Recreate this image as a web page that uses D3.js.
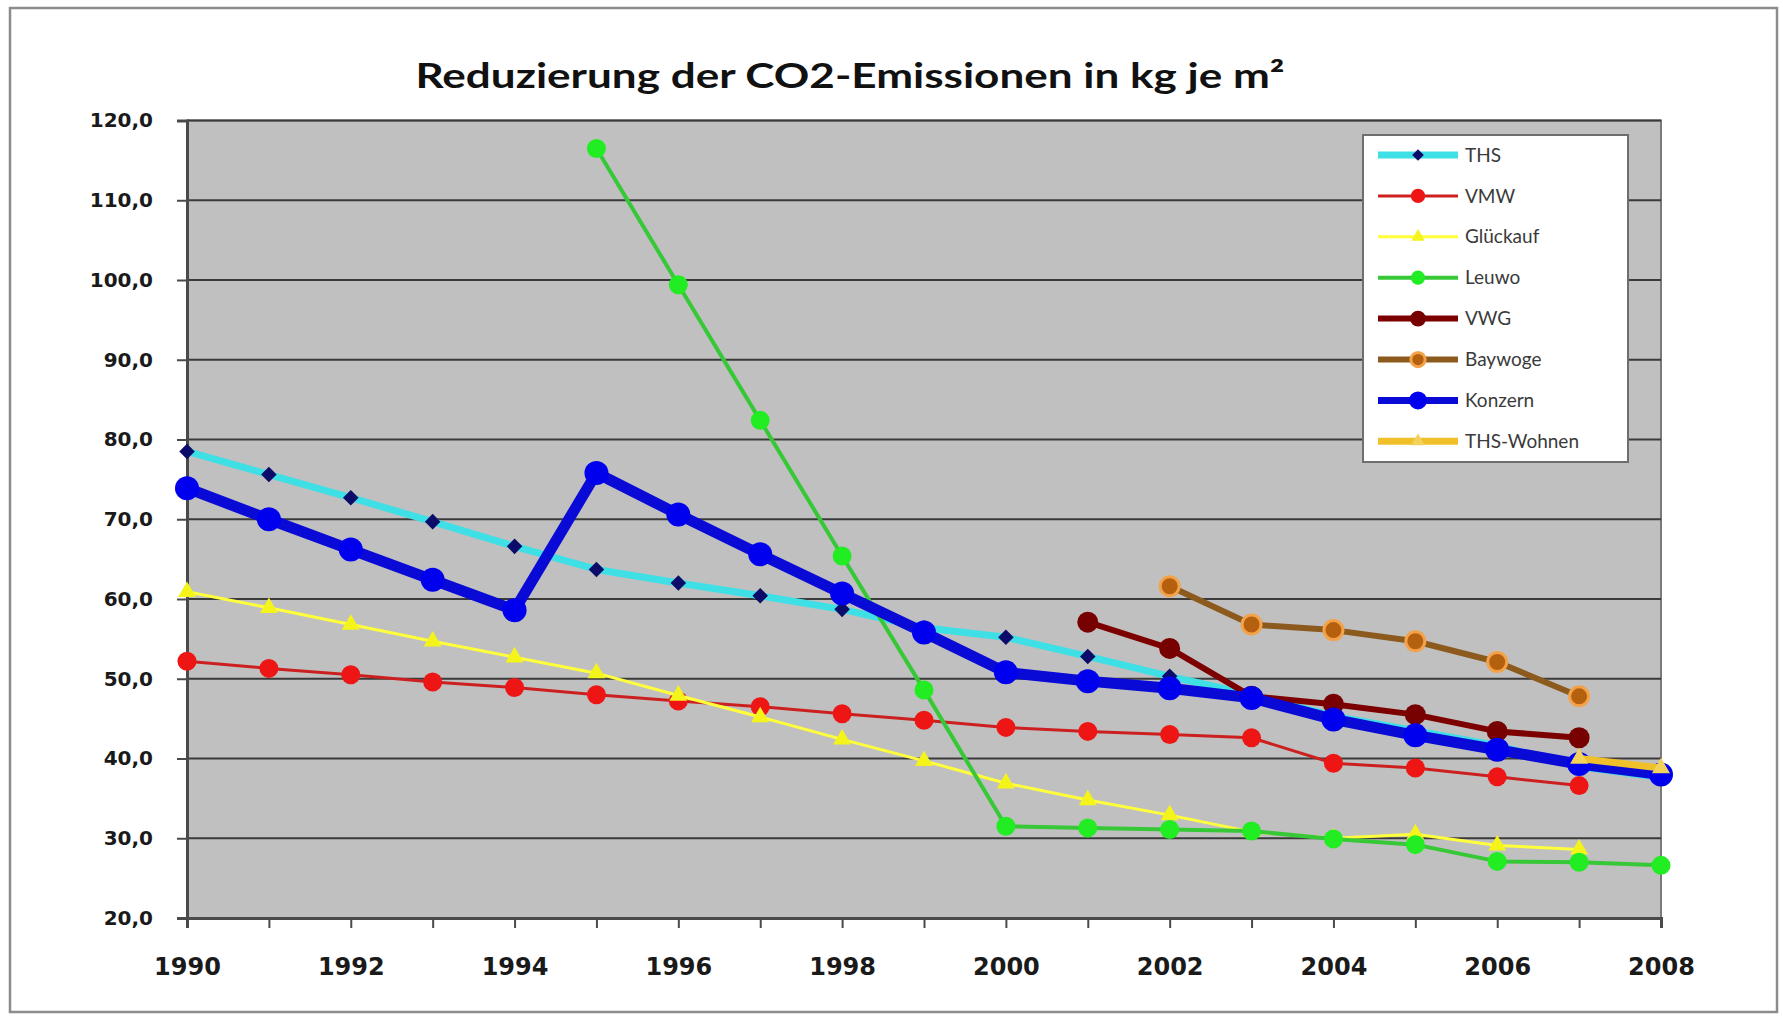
<!DOCTYPE html>
<html>
<head>
<meta charset="utf-8">
<script src="https://cdn.jsdelivr.net/npm/d3@7"></script>
<style>
    body { margin: 0; background: #fff; }
    svg { display: block; }
    .title { font-family: Lato, "Open Sans", sans-serif; font-weight: 700; fill: #111; }
    .yAxis text { font-family: "DejaVu Sans", sans-serif; font-weight: bold; font-size: 20px; fill: #1a1a1a; }
    .xAxis text { font-family: "DejaVu Sans", sans-serif; font-weight: bold; font-size: 24px; fill: #1a1a1a; }
    .legendText { font-family: Lato, sans-serif; font-size: 19px; fill: #3a3a3a; }
</style>
</head>
<body>
<div id="chart"></div>
<script>
// categories
var years = [1990, 1991, 1992, 1993, 1994, 1995, 1996, 1997, 1998, 1999,
             2000, 2001, 2002, 2003, 2004, 2005, 2006, 2007, 2008];
var yTickValues = [20, 30, 40, 50, 60, 70, 80, 90, 100, 110, 120];
var xTickLabels = [1990, 1992, 1994, 1996, 1998, 2000, 2002, 2004, 2006, 2008];
var seriesNames = ["THS", "VMW", "Glückauf", "Leuwo", "VWG", "Baywoge", "Konzern", "THS-Wohnen"];

// series values (kg CO2 per m², one entry per year, null = no value)
var thsValues      = [78.5, 75.6, 72.7, 69.7, 66.6, 63.7, 62.0, 60.4, 58.7, 56.4, 55.2, 52.8, 50.3, 48.0, 45.3, 43.5, 41.6, 39.0, 37.6];
var vmwValues      = [52.2, 51.3, 50.5, 49.6, 48.9, 48.0, 47.2, 46.5, 45.6, 44.8, 43.9, 43.4, 43.0, 42.6, 39.4, 38.8, 37.7, 36.6, null];
var glueckaufValues= [60.9, 58.9, 56.8, 54.7, 52.7, 50.7, 47.9, 45.2, 42.4, 39.7, 36.9, 34.8, 32.9, 30.8, 30.0, 30.5, 29.1, 28.6, null];
var leuwoValues    = [null, null, null, null, null, 116.5, 99.4, 82.4, 65.4, 48.6, 31.5, 31.3, 31.1, 30.9, 29.9, 29.2, 27.1, 27.0, 26.6];
var vwgValues      = [null, null, null, null, null, null, null, null, null, null, null, 57.1, 53.8, 47.8, 46.8, 45.5, 43.4, 42.6, null];
var baywogeValues  = [null, null, null, null, null, null, null, null, null, null, null, null, 61.6, 56.8, 56.1, 54.7, 52.1, 47.8, null];
var konzernValues  = [73.9, 70.0, 66.2, 62.4, 58.6, 75.8, 70.6, 65.6, 60.7, 55.8, 50.8, 49.7, 48.8, 47.6, 44.9, 42.9, 41.1, 39.3, 38.0];
var thsWohnenValues= [null, null, null, null, null, null, null, null, null, null, null, null, null, null, null, null, null, 40.0, 38.8];

var seriesValues = [thsValues, vmwValues, glueckaufValues, leuwoValues, vwgValues, baywogeValues, konzernValues, thsWohnenValues];

// look of each series (Excel-like)
var seriesStyle = {
    "THS":        {line: "#3fdfe6", width: 7,   marker: "diamond",  fill: "#0b0b6a", stroke: "none",    size: 11},
    "VMW":        {line: "#cc2020", width: 3,   marker: "circle",   fill: "#ee1515", stroke: "none",    size: 9.5},
    "Glückauf":   {line: "#ffff3c", width: 3,   marker: "triangle", fill: "#f4f41a", stroke: "none",    size: 18},
    "Leuwo":      {line: "#36c836", width: 4,   marker: "circle",   fill: "#22ec22", stroke: "none",    size: 9.5},
    "VWG":        {line: "#7d0000", width: 6,   marker: "circle",   fill: "#770000", stroke: "none",    size: 10.5},
    "Baywoge":    {line: "#8c5a1c", width: 6,   marker: "circle",   fill: "#b5600e", stroke: "#f3a24a", size: 9.5},
    "Konzern":    {line: "#0a0ad6", width: 11,  marker: "circle",   fill: "#0000ee", stroke: "none",    size: 12},
    "THS-Wohnen": {line: "#f0c02a", width: 7,   marker: "triangle", fill: "#f2d25a", stroke: "none",    size: 18}
};

var W = 1783, H = 1017;
var plot = {left: 187, right: 1661, top: 120.5, bottom: 918};

var svg = d3.select("#chart").append("svg")
    .attr("width", W)
    .attr("height", H);

// outer chart frame
svg.append("rect")
    .attr("x", 10).attr("y", 8)
    .attr("width", 1767).attr("height", 1004)
    .attr("fill", "#fff")
    .attr("stroke", "#8c8c8c")
    .attr("stroke-width", 2.5);

var x = d3.scaleLinear().domain([1990, 2008]).range([plot.left, plot.right]);
var y = d3.scaleLinear().domain([20, 120]).range([plot.bottom, plot.top]);

// plot area
svg.append("rect")
    .attr("x", plot.left).attr("y", plot.top)
    .attr("width", plot.right - plot.left)
    .attr("height", plot.bottom - plot.top)
    .attr("fill", "#c0c0c0")
    .attr("stroke", "#7a7a7a")
    .attr("stroke-width", 2);

// horizontal gridlines
svg.append("g").selectAll("line")
    .data(yTickValues)
    .enter().append("line")
    .attr("x1", plot.left).attr("x2", plot.right)
    .attr("y1", function(d){ return y(d); })
    .attr("y2", function(d){ return y(d); })
    .attr("stroke", "#3a3a3a")
    .attr("stroke-width", 2);

// axes
var fmt = function(d){ return d3.format(".1f")(d).replace(".", ","); };

var yAxis = svg.append("g")
    .attr("class", "yAxis")
    .attr("transform", "translate(" + plot.left + ",0)")
    .call(d3.axisLeft(y).tickValues(yTickValues).tickSize(10).tickPadding(24).tickFormat(fmt));

var xAxis = svg.append("g")
    .attr("class", "xAxis")
    .attr("transform", "translate(0," + plot.bottom + ")")
    .call(d3.axisBottom(x).tickValues(years).tickSize(10).tickPadding(30)
        .tickFormat(function(d){ return xTickLabels.indexOf(d) >= 0 ? d : ""; }));

[yAxis, xAxis].forEach(function(ax){
    ax.select(".domain").attr("stroke", "#4a4a4a").attr("stroke-width", 3);
    ax.selectAll(".tick line").attr("stroke", "#4a4a4a").attr("stroke-width", 2);
});

// marker drawing helper
function drawMarker(sel, st, scale) {
    scale = scale || 1;
    var m;
    if (st.marker === "circle") {
        m = sel.append("circle").attr("r", st.size * scale);
    } else if (st.marker === "diamond") {
        m = sel.append("path")
            .attr("d", d3.symbol().type(d3.symbolSquare).size(Math.pow(st.size * scale, 2))())
            .attr("transform", function(){ return (d3.select(this).attr("transform") || "") + " rotate(45)"; });
    } else {
        var side = st.size * scale;
        m = sel.append("path")
            .attr("d", d3.symbol().type(d3.symbolTriangle).size(Math.sqrt(3) / 4 * side * side)());
    }
    m.attr("fill", st.fill)
     .attr("stroke", st.stroke)
     .attr("stroke-width", st.stroke === "none" ? 0 : 3);
    return m;
}

var line = d3.line()
    .defined(function(d){ return d.v != null; })
    .x(function(d){ return x(d.year); })
    .y(function(d){ return y(d.v); });

// series, drawn in legend order so Konzern sits on top
seriesNames.forEach(function(name, i){
    var st = seriesStyle[name];
    var pts = years.map(function(yr, j){ return {year: yr, v: seriesValues[i][j]}; });
    var g = svg.append("g").attr("class", "series");

    g.append("path")
        .datum(pts)
        .attr("d", line)
        .attr("fill", "none")
        .attr("stroke", st.line)
        .attr("stroke-width", st.width)
        .attr("stroke-linejoin", "round");

    g.selectAll(".pt")
        .data(pts.filter(function(d){ return d.v != null; }))
        .enter().append("g")
        .attr("class", "pt")
        .attr("transform", function(d){ return "translate(" + x(d.year) + "," + y(d.v) + ")"; })
        .each(function(){ drawMarker(d3.select(this), st, 1); });
});

// legend
var legend = svg.append("g").attr("class", "legend");
legend.append("rect")
    .attr("x", 1363).attr("y", 135)
    .attr("width", 265).attr("height", 327)
    .attr("fill", "#fff")
    .attr("stroke", "#6e6e6e")
    .attr("stroke-width", 2);

var rows = legend.selectAll(".row")
    .data(seriesNames)
    .enter().append("g")
    .attr("class", "row")
    .attr("transform", function(d, i){ return "translate(0," + (155 + i * 40.9) + ")"; });

rows.append("line")
    .attr("x1", 1378).attr("x2", 1458)
    .attr("stroke", function(d){ return seriesStyle[d].line; })
    .attr("stroke-width", function(d){ return Math.min(seriesStyle[d].width, 7); });

rows.each(function(d){
    var mg = d3.select(this).append("g").attr("transform", "translate(1418,0)");
    drawMarker(mg, seriesStyle[d], 0.75);
});

rows.append("text")
    .attr("class", "legendText")
    .attr("x", 1465)
    .attr("dy", "0.35em")
    .text(function(d){ return d; });

// title
svg.append("text")
    .attr("class", "title")
    .attr("x", 850)
    .attr("y", 88)
    .attr("text-anchor", "middle")
    .style("font-size", "34px")
    .attr("textLength", 869)
    .attr("lengthAdjust", "spacingAndGlyphs")
    .text("Reduzierung der CO2-Emissionen in kg je m²");
</script>
</body>
</html>
